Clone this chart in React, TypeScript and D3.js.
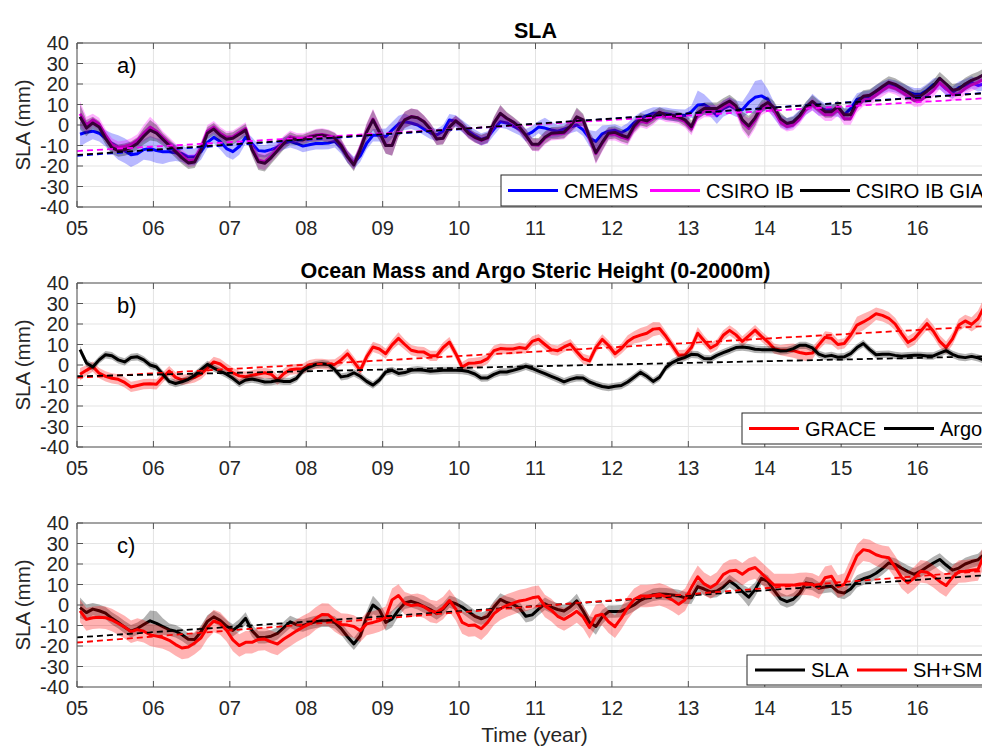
import React from "react";
import * as d3 from "d3";

const W = 982;
const H = 747;

// monthly samples, first one at 2005.04
const T0 = 2005.04;
const YEAR_TICKS = [2005, 2006, 2007, 2008, 2009, 2010, 2011, 2012, 2013, 2014, 2015, 2016];
const Y_TICKS = [-40, -30, -20, -10, 0, 10, 20, 30, 40];

// ---- panel a: SLA ----
const cmems = [
  -4.5, -3.5, -3, -4, -6.5, -9, -11, -12.5, -14.5, -14, -12, -11.4,
  -12.5, -13, -13, -13.5, -14, -15.5, -15.5, -13, -8.5, -6, -8, -11.5,
  -13, -10.5, -6, -9, -12.5, -12.8, -12, -10.8, -9, -8, -9, -10.3,
  -9.6, -9, -9, -8.8, -8, -11, -15.5, -18.5, -15, -9, -5, -5,
  -5.7, -2.5, 0.5, 1.6, 1, 0, -2, -3.8, -4.9, -3, 2.4, 1.8,
  -0.5, -3, -5.2, -7, -6, -2, 1.6, 1, -0.5, -2, -5, -3.5,
  -1, -1.5, -2.4, -3, -2, -1, 0, -2.4, -6.5, -8, -4.3, -3,
  -2.6, -3.8, -2, 1, 3.2, 4.6, 5.7, 5.7, 5.5, 4.9, 4.7, 4.6,
  6.5, 9.8, 10, 8, 4.5, 8, 9.5, 8, 7.4, 11, 13.5, 14.2,
  12.5, 7, 2, 0.4, 1.5, 4.5, 8, 11.2, 8.5, 7.5, 7.3, 7,
  5, 8, 12.5, 13.5, 14, 16.5, 18.2, 19.5, 18.8, 17.5, 16.2, 15,
  15, 17, 19.7, 20.3, 17.5, 15.8, 18.2, 19.3, 20.8, 19.3, 20, 18,
];
const cmemsErr = [
  6, 5, 4, 4, 4, 5, 6, 6, 6, 5, 5, 6,
  6, 6, 5, 4, 4, 4, 4, 4, 3, 3, 4, 4,
  4, 4, 3, 3, 3, 3, 3, 3, 3, 3, 3, 3,
  3, 3, 3, 3, 3, 3, 3, 3, 3, 3, 3, 3,
  4, 4, 4, 4, 3, 3, 3, 3, 3, 3, 3, 3,
  3, 3, 3, 3, 3, 3, 3, 3, 3, 3, 3, 3,
  3, 5, 4, 3, 3, 3, 3, 3, 4, 5, 4, 3,
  3, 3, 3, 3, 3, 3, 3, 3, 3, 3, 3, 3,
  3, 7, 5, 4, 4, 4, 4, 4, 4, 5, 8, 8,
  5, 4, 3, 3, 3, 3, 3, 4, 4, 3, 3, 3,
  3, 3, 3, 3, 3, 3, 3, 3, 3, 3, 3, 3,
  3, 3, 3, 3, 3, 3, 3, 3, 3, 3, 3, 3,
];
const csiroIB = [
  5.5, 0, 2.5, 0.5, -5, -9.5, -11, -10.5, -9.5, -7.5, -4, -1,
  -3, -6, -9, -12, -15, -17.5, -17, -11, -3, -1, -4, -6,
  -5.7, -3.7, -1.7, -11.2, -17.2, -17.9, -15.2, -11.7, -8.2, -5.7, -6.4, -6.5,
  -5.6, -4.9, -4.6, -5.2, -6, -9.6, -15.1, -19.1, -11.6, -3.1, 2.9, -3.1,
  -9.9, -9.9, -1.9, 2.6, 4.1, 3.6, 1.7, -1.9, -6.7, -6.4, -0.9, 2.1,
  -0.7, -4.2, -6.2, -7.5, -6.4, 0.8, 5.5, 3.1, 1.3, -1.2, -5.2, -9.6,
  -9.9, -6.5, -4.5, -4.3, -4, -1, 3.5, 2, -6.5, -14, -9, -4.5,
  -4.5, -5.9, -6.9, -1.4, 1.9, 1.1, 3.1, 5.3, 4, 3.7, 3.1, 1.6,
  -2, 4.8, 6.8, 6.8, 6.8, 8.8, 10.5, 8.1, 1.3, -1.7, 2.3, 7.8,
  9.5, 7, 1.5, -0.7, 0, 3, 7.5, 10, 7.5, 5, 5, 7.5,
  3.1, 3.1, 9.1, 12.1, 12.6, 14.6, 16.9, 18.9, 17.9, 16.1, 14.1, 11.9,
  12, 14.3, 16.8, 20.6, 17.8, 14.8, 15.3, 17.8, 19.6, 20.8, 22.5, 22.8,
];
const csiroGIA = [
  4, -1.5, 1, -1, -6.5, -11, -12.5, -12, -11, -9, -5.5, -2.5,
  -4, -7, -10, -13, -16, -18.5, -18, -12, -4, -2, -5, -7,
  -6.5, -4.5, -2.5, -12, -18, -18.7, -16, -12.5, -9, -6.5, -7.2, -7.3,
  -6, -5.3, -5, -5.6, -6.4, -10, -15.5, -19.5, -12, -3.5, 2.5, -3.5,
  -10, -10, -2, 2.5, 4, 3.5, 1.6, -2, -6.8, -6.5, -1, 2,
  -0.5, -4, -6, -7.3, -6.2, 1, 5.7, 3.3, 1.5, -1, -5, -9.4,
  -9.4, -6, -4, -3.8, -3.5, -0.5, 4, 2.5, -6, -13.5, -8.5, -4,
  -3.6, -5, -6, -0.5, 2.8, 2, 4, 6.2, 4.9, 4.6, 4, 2.5,
  -0.8, 6, 8, 8, 8, 10, 11.7, 9.3, 2.5, -0.5, 3.5, 9,
  11, 8.5, 3, 0.8, 1.5, 4.5, 9, 11.5, 9, 6.5, 6.5, 9,
  5, 5, 11, 14, 14.5, 16.5, 18.8, 20.8, 19.8, 18, 16, 13.8,
  14.2, 16.5, 19, 22.8, 20, 17, 17.5, 20, 21.8, 23, 24.7, 25,
];
const csiroErr = [
  6, 4, 3, 3, 3, 3, 3, 3, 3, 3, 4, 5,
  4, 3, 3, 3, 3, 3, 3, 3, 3, 3, 3, 3,
  3, 3, 3, 3, 4, 4, 3, 3, 3, 3, 2.5, 2.5,
  2.5, 3, 3, 3, 2.5, 3, 3, 3, 3, 4, 5, 4,
  4, 5, 4, 4, 4, 4, 3, 3, 3, 3, 3, 2.5,
  2.5, 2.5, 2.5, 2.5, 2.5, 3, 4, 3, 2.5, 2.5, 3, 3,
  3, 3, 3, 3, 3, 3, 4.5, 3, 3, 5, 4, 3,
  3, 3, 3, 3, 3, 3, 3, 2.5, 2.5, 2.5, 2.5, 3,
  3, 3, 3, 3, 3, 3, 3, 3, 4, 5, 4, 3,
  3, 3, 3, 2.5, 2.5, 2.5, 2.5, 3, 3, 3, 3, 3,
  3, 3, 3, 3, 3, 3, 3, 3, 3, 3, 3, 3,
  3, 3, 3, 3, 3, 3, 3, 3, 3, 3, 3, 3,
];
// trend values at 2005 and 2017
const trendCMEMS = [-15, 16];
const trendIB = [-12.7, 13.3];
const trendGIA = [-14.6, 15.8];

// ---- panel b: ocean mass and steric height ----
const grace = [
  -4.5, -2.6, -0.8, -4, -5.5, -6.5, -7, -8.5, -10.7, -10, -9.3, -9.2,
  -9.4, -6, -3, -6, -7.3, -6.8, -6, -4.5, -1.5, 1.5, 0.5, -1.8,
  -3.8, -5.3, -5.7, -5, -4.4, -3.8, -4.5, -7.3, -4.2, -2.3, -2, -1.8,
  0, 0.5, 0.5, 0.2, 0.3, 2.5, 5.5, 1.5, -2.6, 4, 8.8, 7.8,
  5.5, 9.8, 13, 10, 7.2, 6.5, 6.3, 4.5, 4.5, 8.5, 11.2, 5.5,
  -1, 0.8, 1, 1.5, 3.1, 7, 8, 7.8, 7.8, 8.5, 8, 11.5,
  12.6, 10, 7.5, 7, 8.8, 10.2, 6.5, 3, 2, 8.5, 12.5, 9.5,
  5.5, 8, 11.5, 13.5, 14.6, 15.5, 17.5, 17.8, 14, 9.5, 4.8, 5,
  8.5, 15.5, 11.8, 8.3, 10, 14.5, 16.9, 14.7, 11.5, 14.2, 17, 14,
  11.3, 8, 7.2, 7.2, 7, 6.1, 5.5, 5.8, 9.8, 13.5, 13, 10,
  10.5, 14.5, 19.5, 21, 22.8, 25, 24.2, 22.8, 20, 15.3, 11, 12.8,
  16.5, 20.2, 16.5, 11.5, 8.5, 12.8, 19.5, 21.5, 19.8, 22.5, 28.5, 31,
];
const graceErr = [
  3, 2.5, 2.5, 2.5, 2.5, 2.5, 2.5, 2.5, 2.5, 2.5, 2.5, 2.5,
  2.5, 2.5, 2.5, 2.5, 2.5, 2.5, 2.5, 2.5, 2.5, 2.5, 2.5, 2.5,
  2.5, 2.5, 2.5, 2.5, 2.5, 2.5, 2.5, 2.5, 2.5, 2.5, 2.5, 2.5,
  2.5, 2.5, 2.5, 2.5, 2.5, 2.5, 2.5, 2.5, 2.5, 2.5, 2.5, 2.5,
  2.5, 2.5, 3, 2.5, 2.5, 2.5, 2.5, 2.5, 2.5, 2.5, 2.5, 2.5,
  2.5, 2.5, 2.5, 2.5, 2.5, 2.5, 2.5, 2.5, 2.5, 2.5, 2.5, 2.5,
  2.5, 2.5, 2.5, 2.5, 2.5, 2.5, 2.5, 2.5, 2.5, 2.5, 2.5, 2.5,
  2.5, 2.5, 3, 3, 3.5, 3.5, 3.5, 3, 2.5, 2.5, 2.5, 2.5,
  2.5, 3, 2.5, 2.5, 2.5, 2.5, 2.5, 2.5, 2.5, 2.5, 2.5, 2.5,
  2.5, 2.5, 2.5, 3, 3.5, 3.5, 3.5, 3, 2.5, 3, 3, 2.5,
  2.5, 3, 4, 4, 3.5, 3, 3, 3, 3, 3, 3, 3,
  3, 3, 3, 3, 3, 3, 3, 3, 3.5, 4, 4.5, 5,
];
const argo = [
  7.5, 1, -1, 2.5, 5, 4.5, 2.5, 1.5, 3.7, 4, 2.5, 0,
  -1, -4.5, -8, -9, -8.2, -7, -5, -2.3, 0.3, -1.5, -3, -4.5,
  -6.5, -9, -7.3, -6.8, -7.5, -8.3, -8.2, -7.6, -8, -8, -6.5, -2.8,
  -1, 0.2, 0.6, 0.3, -2.3, -5.8, -5.3, -3.8, -5.5, -8, -9.8, -7.3,
  -3.4, -2.6, -4.1, -3.7, -2.6, -2.3, -2.6, -3, -2.8, -2.6, -2.6, -2.6,
  -2.7, -3.2, -4.4, -6.4, -6.3, -4.6, -3.4, -3.4, -2.6, -1.7, -0.6, -1.7,
  -3, -4.2, -5.5, -6.8, -8.2, -7, -6.2, -6.3, -8.3, -9.5, -10.5, -11,
  -10.4, -10, -8.3, -6, -3.6, -5.5, -8, -6, -1.2, 1.2, 2.7, 3.7,
  5.2, 5, 3.2, 3, 4.7, 6, 7.2, 8.5, 8.8, 8.4, 7.7, 7.5,
  7.5, 7.4, 6.8, 7, 8, 9.6, 9.6, 8.3, 5.3, 4.2, 4.7, 3.8,
  4, 5.5, 8.5, 10.5, 7.5, 5, 5.2, 5.3, 4.7, 4.3, 4.5, 4.7,
  4.7, 4.4, 4.4, 5.8, 7, 5.2, 4, 3.6, 4.2, 3.5, 2.3, 2.5,
];
const ARGO_ERR = 1.8;
const trendGrace = [-6.2, 19.2];
const trendArgo = [-5.5, 4.3];

// ---- panel c: SLA vs steric + mass ----
const slaMean = [
  -1.3, -3.7, -2, -2.8, -4, -6.5, -8.5, -10.8, -12.8, -11.5, -9.5, -7.7,
  -9, -10.5, -12, -12.8, -14.5, -16.7, -16.8, -13, -8, -5.8, -7.5, -10.3,
  -12.4, -10, -6.5, -12.5, -15.8, -15.8, -15.2, -13.8, -11, -8.2, -9.6, -10,
  -9, -8.2, -7.7, -7.7, -8.5, -11.5, -15.5, -19, -15, -6, 0, -2.4,
  -8.5, -6.8, -2.5, 1, 1.8, 0.8, -0.8, -2.2, -4.2, -2, 1.6, 0.6,
  -1, -3.3, -5.5, -6.7, -5.5, -1, 2.7, 1.2, 0.3, -1.5, -5.5, -4.8,
  -2, 0.6, -1, -2.2, -2.9, -0.8, 2, -2.9, -8.5, -10.5, -5.8, -3.2,
  -3.2, -3, -1.6, 0, 2.3, 3.7, 5, 5.4, 5.3, 4.9, 4.5, 3.5,
  3.5, 9, 7.8, 6.4, 6.8, 8.8, 11.7, 9.5, 6.5, 3.8, 7.5, 13,
  11.5, 7, 3, 1.6, 2.8, 5.8, 10.8, 10.2, 8.2, 8.8, 9.2, 6.5,
  5.8, 7.8, 11.5, 12.8, 13.8, 15.5, 17.8, 20.5, 19.8, 18, 16.3, 14.9,
  16.5, 18.5, 20.5, 22.2, 19.5, 17, 18, 20, 21.2, 22, 24.8, 24,
];
const slaMeanErr = [
  5, 4, 3, 3, 3, 3, 3, 3, 3, 3, 3, 5,
  6, 4, 3, 3, 3, 3, 3, 3, 3, 3, 3, 3,
  3, 3, 3, 3, 3, 3, 3, 3, 3, 3, 3, 3,
  3, 3, 3, 3, 3, 3, 3, 3, 3, 3, 4.5, 3.5,
  4, 4, 3, 3, 3, 3, 3, 3, 3, 3, 3, 3,
  3, 3, 3, 3, 3, 3, 3, 3, 3, 3, 3, 3,
  3, 3, 3, 3, 3, 3, 3.5, 3, 3, 4, 3.5, 3,
  3, 3, 3, 3, 3, 3, 3, 3, 3, 3, 3, 3,
  3, 3, 3, 3, 3, 3, 3, 3, 3.5, 4.5, 3.5, 3,
  3, 3, 3, 3, 3, 3, 3, 3, 3, 3, 3, 3,
  3, 3, 3, 3, 3, 3, 3, 3, 3, 3, 3, 3,
  3, 3, 3, 3, 3, 3, 3, 3, 3, 3, 3, 3,
];
const shsm = [
  -2.9, -7, -6.2, -6, -6.2, -7.3, -9, -10.8, -13, -12, -12.8, -14.5,
  -15.2, -15.9, -17.2, -19.3, -21, -20.5, -18.5, -16, -11, -7.8, -9, -12.3,
  -17, -19.8, -18.2, -18.2, -16.8, -16.6, -18, -19, -16.6, -14.6, -12.6, -10.8,
  -9.2, -6.6, -4.6, -4.8, -7.5, -9.5, -9.8, -10.5, -12.5, -9.2, -8.5, -7.6,
  -6.1, 2.5, 4.6, 0.8, -0.3, 0.1, -0.8, -2.9, -3.5, -1.5, 2.2, -2,
  -8.5, -10, -9.8, -11.6, -8.5, -4.2, -1.8, -0.3, 0.9, 2, 2.5, 3.5,
  4, -0.5, -2.5, -5.5, -7, -5.2, -3.1, -5.8, -11, -5.3, -4.5, -8.2,
  -10.6, -6.3, -1.3, 2.6, 4.4, 4.4, 4.6, 5.2, 4.1, 2.5, 0.4, 2.6,
  8.5, 13.8, 10.3, 8.5, 10.5, 14.8, 16.6, 17, 15, 17.3, 18.3, 15.5,
  12.5, 9.7, 9.7, 9.7, 9.7, 10.2, 10.4, 10, 8.5, 13.3, 14, 9,
  10, 17, 24, 27, 26.3, 24.5, 23.5, 23, 18.5, 13.5, 10.8, 13.2,
  16.5, 16, 14, 11.5, 9.5, 13.5, 16.3, 16.5, 17, 17.3, 24.5, 27,
];
const SHSM_ERR = 5.5;
const trendSLA = [-15.8, 14.8];
const trendSHSM = [-18.3, 17];

const FONT = "Liberation Sans, Arial, Helvetica, sans-serif";
const AX_LEFT = 77;
const AX_RIGHT = 994;
const AX_H = 164;

const x = d3.scaleLinear().domain([2005, 2017]).range([AX_LEFT, AX_RIGHT]);
const times = d3.range(cmems.length).map((i) => T0 + i / 12);

type Layer =
  | { kind: "band"; values: number[]; err: number[] | number; fill: string; opacity: number }
  | { kind: "line"; values: number[]; color: string; width?: number }
  | { kind: "trend"; ends: number[]; color: string };

type LegendItem = { label: string; color: string; dx: number };

function Panel(props: {
  id: string;
  top: number;
  title: string;
  letter: string;
  layers: Layer[];
  legend: { x: number; y: number; h: number; items: LegendItem[] };
  xLabel?: string;
}) {
  const { id, top, title, letter, layers, legend, xLabel } = props;
  const y = d3.scaleLinear().domain([-40, 40]).range([top + AX_H, top]);
  const line = d3
    .line<number>()
    .x((_, i) => x(times[i]))
    .y((d) => y(d));
  const bottom = top + AX_H;

  return (
    <g>
      <defs>
        <clipPath id={`clip-${id}`}>
          <rect x={AX_LEFT} y={top} width={AX_RIGHT - AX_LEFT} height={AX_H} />
        </clipPath>
      </defs>
      {/* grid */}
      {YEAR_TICKS.map((t) => (
        <line key={"gx" + t} x1={x(t)} x2={x(t)} y1={top} y2={bottom} stroke="#e3e3e3" />
      ))}
      {Y_TICKS.map((v) => (
        <line key={"gy" + v} x1={AX_LEFT} x2={AX_RIGHT} y1={y(v)} y2={y(v)} stroke="#e3e3e3" />
      ))}
      <g clipPath={`url(#clip-${id})`}>
        {layers.map((l, k) => {
          if (l.kind === "band") {
            const e = (i: number) => (typeof l.err === "number" ? l.err : l.err[i]);
            const area = d3
              .area<number>()
              .x((_, i) => x(times[i]))
              .y0((d, i) => y(d - e(i)))
              .y1((d, i) => y(d + e(i)));
            return <path key={k} d={area(l.values) || ""} fill={l.fill} fillOpacity={l.opacity} stroke="none" />;
          }
          if (l.kind === "line") {
            return (
              <path
                key={k}
                d={line(l.values) || ""}
                fill="none"
                stroke={l.color}
                strokeWidth={l.width ?? 3}
                strokeLinejoin="round"
              />
            );
          }
          return (
            <line
              key={k}
              x1={x(2005)}
              x2={x(2017)}
              y1={y(l.ends[0])}
              y2={y(l.ends[1])}
              stroke={l.color}
              strokeWidth={1.8}
              strokeDasharray="6,4"
            />
          );
        })}
      </g>
      {/* axes box and ticks */}
      <line x1={AX_LEFT} x2={AX_RIGHT} y1={top} y2={top} stroke="#555" />
      <line x1={AX_LEFT} x2={AX_RIGHT} y1={bottom} y2={bottom} stroke="#555" />
      <line x1={AX_LEFT} x2={AX_LEFT} y1={top} y2={bottom} stroke="#555" />
      {YEAR_TICKS.map((t) => (
        <g key={"tx" + t}>
          <line x1={x(t)} x2={x(t)} y1={bottom} y2={bottom - 6} stroke="#555" />
          <line x1={x(t)} x2={x(t)} y1={top} y2={top + 6} stroke="#555" />
          <text
            x={x(t)}
            y={bottom + 28}
            textAnchor="middle"
            fontSize={20}
            fill="#262626"
            fontFamily={FONT}
          >
            {String(t).slice(2)}
          </text>
        </g>
      ))}
      {Y_TICKS.map((v) => (
        <g key={"ty" + v}>
          <line x1={AX_LEFT} x2={AX_LEFT + 6} y1={y(v)} y2={y(v)} stroke="#555" />
          <text
            x={69}
            y={y(v) + 7}
            textAnchor="end"
            fontSize={20}
            fill="#262626"
            fontFamily={FONT}
          >
            {v}
          </text>
        </g>
      ))}
      <text
        transform={`translate(30,${top + AX_H / 2}) rotate(-90)`}
        textAnchor="middle"
        fontSize={20.5}
        fill="#262626"
        fontFamily={FONT}
      >
        SLA (mm)
      </text>
      <text
        x={(AX_LEFT + AX_RIGHT) / 2}
        y={top - 5}
        textAnchor="middle"
        fontSize={21.5}
        fontWeight="bold"
        fill="#000"
        fontFamily={FONT}
      >
        {title}
      </text>
      <text x={117} y={top + 30} fontSize={22} fill="#000" fontFamily={FONT}>
        {letter}
      </text>
      {/* legend */}
      <rect
        x={legend.x}
        y={legend.y}
        width={600}
        height={legend.h}
        fill="#fff"
        stroke="#262626"
        strokeWidth={1}
      />
      {legend.items.map((it) => (
        <g key={it.label}>
          <line
            x1={legend.x + it.dx}
            x2={legend.x + it.dx + 50}
            y1={legend.y + legend.h / 2}
            y2={legend.y + legend.h / 2}
            stroke={it.color}
            strokeWidth={3}
          />
          <text
            x={legend.x + it.dx + 56}
            y={legend.y + legend.h / 2 + 7}
            fontSize={20}
            fill="#000"
            fontFamily={FONT}
          >
            {it.label}
          </text>
        </g>
      ))}
      {xLabel && (
        <text
          x={(AX_LEFT + AX_RIGHT) / 2 - 1}
          y={bottom + 55}
          textAnchor="middle"
          fontSize={21}
          fill="#262626"
          fontFamily={FONT}
        >
          {xLabel}
        </text>
      )}
    </g>
  );
}

export default function App() {
  return (
    <svg
      width={W}
      height={H}
      style={{ position: "absolute", left: 0, top: 0, background: "#fff" }}
    >
      <rect x={0} y={0} width={W} height={H} fill="#fff" />
      <Panel
        id="a"
        top={43}
        title="SLA"
        letter="a)"
        layers={[
          { kind: "band", values: cmems, err: cmemsErr, fill: "#0000ff", opacity: 0.28 },
          { kind: "line", values: cmems, color: "#0000ff" },
          { kind: "line", values: csiroIB, color: "#ff00ff" },
          { kind: "line", values: csiroGIA, color: "#000" },
          { kind: "band", values: csiroIB, err: csiroErr, fill: "#ff00ff", opacity: 0.3 },
          { kind: "band", values: csiroGIA, err: csiroErr, fill: "#000", opacity: 0.3 },
          { kind: "trend", ends: trendCMEMS, color: "#0000ff" },
          { kind: "trend", ends: trendIB, color: "#ff00ff" },
          { kind: "trend", ends: trendGIA, color: "#000" },
        ]}
        legend={{
          x: 501,
          y: 175,
          h: 31,
          items: [
            { label: "CMEMS", color: "#0000ff", dx: 7 },
            { label: "CSIRO IB", color: "#ff00ff", dx: 149 },
            { label: "CSIRO IB GIA", color: "#000", dx: 299 },
          ],
        }}
      />
      <Panel
        id="b"
        top={283}
        title="Ocean Mass and Argo Steric Height (0-2000m)"
        letter="b)"
        layers={[
          { kind: "band", values: grace, err: graceErr, fill: "#ff0000", opacity: 0.3 },
          { kind: "line", values: grace, color: "#ff0000" },
          { kind: "band", values: argo, err: ARGO_ERR, fill: "#000", opacity: 0.3 },
          { kind: "line", values: argo, color: "#000" },
          { kind: "trend", ends: trendGrace, color: "#ff0000" },
          { kind: "trend", ends: trendArgo, color: "#000" },
        ]}
        legend={{
          x: 742,
          y: 413,
          h: 31,
          items: [
            { label: "GRACE", color: "#ff0000", dx: 7 },
            { label: "Argo", color: "#000", dx: 142 },
          ],
        }}
      />
      <Panel
        id="c"
        top={523}
        title=""
        letter="c)"
        layers={[
          { kind: "band", values: slaMean, err: slaMeanErr, fill: "#000", opacity: 0.3 },
          { kind: "line", values: slaMean, color: "#000" },
          { kind: "band", values: shsm, err: SHSM_ERR, fill: "#ff0000", opacity: 0.3 },
          { kind: "line", values: shsm, color: "#ff0000" },
          { kind: "trend", ends: trendSLA, color: "#000" },
          { kind: "trend", ends: trendSHSM, color: "#ff0000" },
        ]}
        legend={{
          x: 747,
          y: 655,
          h: 30,
          items: [
            { label: "SLA", color: "#000", dx: 8 },
            { label: "SH+SM", color: "#ff0000", dx: 110 },
          ],
        }}
        xLabel="Time (year)"
      />
    </svg>
  );
}
